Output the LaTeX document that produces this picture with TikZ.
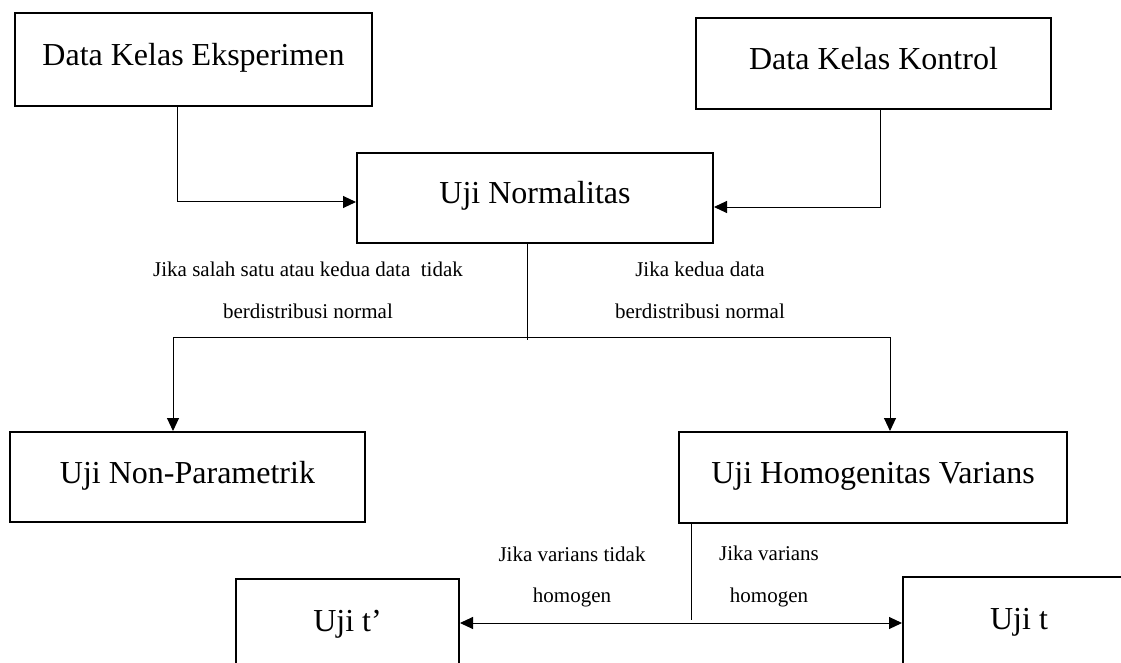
\documentclass[tikz,border=0pt]{standalone}
\usepackage{fontspec}
\setmainfont{Liberation Serif}
\usetikzlibrary{arrows.meta}
\begin{document}
\begin{tikzpicture}[x=1pt,y=-1pt,
  box/.style={draw, line width=2pt, rectangle, inner sep=0pt, font=\fontsize{32}{38}\selectfont, text height=22pt, text depth=10pt},
  lbl/.style={font=\fontsize{21}{42}\selectfont, align=center, inner sep=0pt},
  link/.style={line width=1pt},
  arr/.style={line width=1pt, -{Triangle[length=13pt,width=12pt]}},
  darr/.style={line width=1pt, {Triangle[length=13pt,width=12pt]}-{Triangle[length=13pt,width=12pt]}}]
\clip (0,0) rectangle (1121,663);
\fill[white] (0,0) rectangle (1121,663);
% boxes
\node[box, minimum width=357pt, minimum height=93pt] (e) at (193.5,59.5) {Data Kelas Eksperimen};
\node[box, minimum width=355pt, minimum height=91pt] (k) at (873.5,63.5) {Data Kelas Kontrol};
\node[box, minimum width=356pt, minimum height=90pt] (n) at (535,198) {Uji Normalitas};
\node[box, minimum width=355pt, minimum height=90pt] (np) at (187.5,477) {Uji Non-Parametrik};
\node[box, minimum width=388pt, minimum height=91pt] (h) at (873,477.5) {Uji Homogenitas Varians};
\node[box, anchor=north, minimum width=223pt, text depth=100pt, inner ysep=30pt] (tp) at (347.5,578) {Uji t’};
\node[box, anchor=north west, minimum width=232pt, text depth=100pt, inner ysep=30pt] (t) at (902,576) {Uji t};
% helper coordinates
\coordinate (c1) at (177,0);
\coordinate (c2) at (880,0);
\coordinate (c3) at (527,340);
\coordinate (j) at (527,337);
\coordinate (bl) at (173,0);
\coordinate (br) at (890,0);
\coordinate (c4) at (691,620);
\coordinate (c5) at (0,623);
% connectors
\draw[arr] (e.south -| c1) |- ([yshift=-4pt]n.west);
\draw[arr] (k.south -| c2) |- ([yshift=-9pt]n.east);
\draw[link] (n.south -| c3) -- (c3);
\draw[arr] (j) -| (np.north -| bl);
\draw[arr] (j) -| (h.north -| br);
\draw[link] (h.south -| c4) -- (c4);
\draw[darr] (tp.east |- c5) -- (t.west |- c5);
% labels (base = baseline of last line)
\node[lbl, anchor=base] (l1) at (308,318) {Jika salah satu atau kedua data\ \ tidak\\berdistribusi normal};
\node[lbl, anchor=base] (l2) at (700,318) {Jika kedua data\\berdistribusi normal};
\node[lbl, anchor=base, font=\fontsize{21}{41}\selectfont] (l3) at (572,602) {Jika varians tidak\\homogen};
\node[lbl, anchor=base] (l4) at (769,602) {Jika varians\\homogen};
\end{tikzpicture}
\end{document}
